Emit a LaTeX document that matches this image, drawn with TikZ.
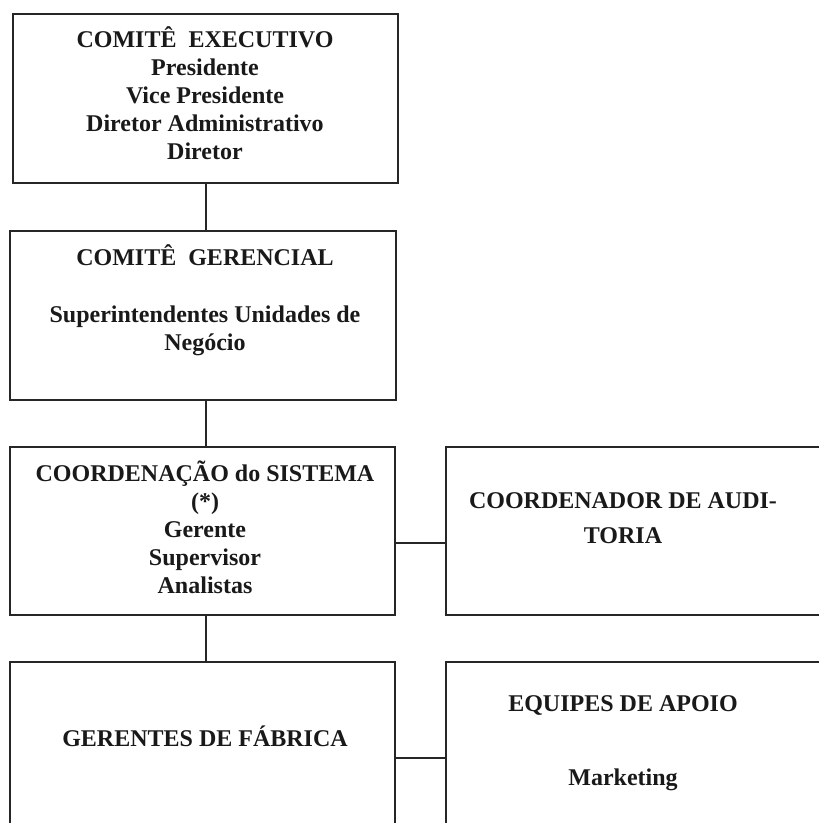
\documentclass[tikz,border=0pt]{standalone}
\usepackage{fontspec}
\setmainfont{Liberation Serif}
\begin{document}
\begin{tikzpicture}[x=1pt,y=-1pt,
  box/.style={draw=black!85, line width=2pt, rectangle, inner sep=0pt, outer sep=0pt, anchor=north west},
  txt/.style={font=\fontsize{24}{28}\selectfont\bfseries, anchor=base, inner sep=0pt, text=black!90},
  link/.style={draw=black!85, line width=2pt}]
\useasboundingbox[fill=white] (0,0) rectangle (819,823);
% boxes
\node[box, minimum width=385pt, minimum height=169pt] (b1) at (13,14) {};
\node[box, minimum width=386pt, minimum height=169pt] (b2) at (10,231) {};
\node[box, minimum width=385pt, minimum height=168pt] (b3) at (10,447) {};
\node[box, minimum width=394pt, minimum height=168pt] (b4) at (446,447) {};
\node[box, minimum width=385pt, minimum height=178pt] (b5) at (10,662) {};
\node[box, minimum width=394pt, minimum height=178pt] (b6) at (446,662) {};
% texts
\node[txt] (t11) at (205,47)  {COMITÊ\ \ EXECUTIVO};
\node[txt] (t12) at (205,75)  {Presidente};
\node[txt] (t13) at (205,103) {Vice Presidente};
\node[txt] (t14) at (205,131) {Diretor Administrativo};
\node[txt] (t15) at (205,159) {Diretor};
\node[txt] (t21) at (205,265) {COMITÊ\ \ GERENCIAL};
\node[txt] (t22) at (205,322) {Superintendentes Unidades de};
\node[txt] (t23) at (205,350) {Negócio};
\node[txt] (t31) at (205,481) {COORDENAÇÃO do SISTEMA};
\node[txt] (t32) at (205,509) {(*)};
\node[txt] (t33) at (205,537) {Gerente};
\node[txt] (t34) at (205,565) {Supervisor};
\node[txt] (t35) at (205,593) {Analistas};
\node[txt] (t41) at (623,508) {COORDENADOR DE AUDI-};
\node[txt] (t42) at (623,543) {TORIA};
\node[txt] (t51) at (205,746) {GERENTES DE FÁBRICA};
\node[txt] (t61) at (623,711) {EQUIPES DE APOIO};
\node[txt] (t62) at (623,785) {Marketing};
% connectors
\draw[link] (b1.south) -- (b1.south |- b2.north);
\draw[link] (b1.south |- b2.south) -- (b1.south |- b3.north);
\draw[link] (b1.south |- b3.south) -- (b1.south |- b5.north);
\path (b3.east) ++(0,12) coordinate (c34);
\draw[link] (c34) -- (c34 -| b4.west);
\path (b5.north east) ++(0,96) coordinate (c56);
\draw[link] (c56) -- (c56 -| b6.west);
\end{tikzpicture}
\end{document}
